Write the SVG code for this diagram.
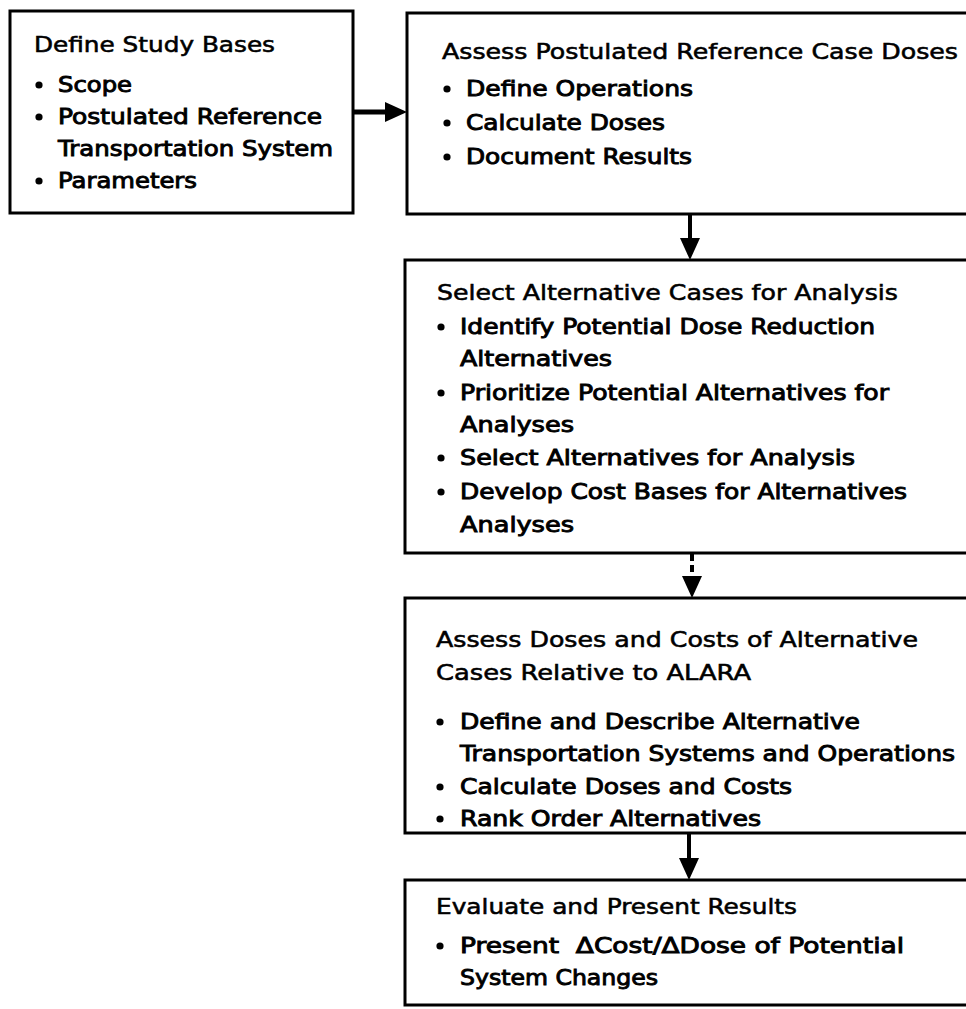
<svg xmlns="http://www.w3.org/2000/svg" width="966" height="1009" viewBox="0 0 966 1009">
<defs>
<style>
.box{fill:#fff;stroke:#000;stroke-width:3}
text{font-family:"DejaVu Sans","Liberation Sans",sans-serif;font-size:21px;fill:#000}
.t{font-weight:normal;stroke:#000;stroke-width:0.55}
.b{font-weight:normal;stroke:#000;stroke-width:0.9}
.dot{fill:#000}
.conn{stroke:#000;fill:none}
</style>
<marker id="ah" markerUnits="userSpaceOnUse" viewBox="0 -10 22 20" markerWidth="22" markerHeight="20" refX="2" refY="0" orient="auto">
<path d="M0,-10 L22,0 L0,10 z" fill="#000"/>
</marker>
</defs>
<rect width="966" height="1009" fill="#fff"/>

<g id="connectors">
<line class="conn" x1="354" y1="112" x2="387" y2="112" stroke-width="5" marker-end="url(#ah)"/>
<line class="conn" x1="690" y1="215" x2="690" y2="240" stroke-width="4" marker-end="url(#ah)"/>
<line class="conn" x1="692" y1="554" x2="692" y2="578" stroke-width="4" stroke-dasharray="7 4" marker-end="url(#ah)"/>
<line class="conn" x1="689" y1="834" x2="689" y2="860" stroke-width="4" marker-end="url(#ah)"/>
</g>

<g id="n1">
<rect class="box" x="10" y="11" width="343" height="202"/>
<text class="t" x="34" y="52" textLength="241" lengthAdjust="spacingAndGlyphs">Define Study Bases</text>
<circle class="dot" cx="39" cy="85" r="3.6"/>
<text class="b" x="58" y="92" textLength="74" lengthAdjust="spacingAndGlyphs">Scope</text>
<circle class="dot" cx="39" cy="117" r="3.6"/>
<text class="b" x="58" y="124" textLength="264" lengthAdjust="spacingAndGlyphs">Postulated Reference</text>
<text class="b" x="58" y="156" textLength="275" lengthAdjust="spacingAndGlyphs">Transportation System</text>
<circle class="dot" cx="39" cy="181" r="3.6"/>
<text class="b" x="58" y="188" textLength="139" lengthAdjust="spacingAndGlyphs">Parameters</text>
</g>

<g id="n2">
<rect class="box" x="407" y="13" width="580" height="201"/>
<text class="t" x="442" y="59" textLength="516" lengthAdjust="spacingAndGlyphs">Assess Postulated Reference Case Doses</text>
<circle class="dot" cx="447" cy="89" r="3.6"/>
<text class="b" x="466" y="96" textLength="227" lengthAdjust="spacingAndGlyphs">Define Operations</text>
<circle class="dot" cx="447" cy="123" r="3.6"/>
<text class="b" x="466" y="130" textLength="199" lengthAdjust="spacingAndGlyphs">Calculate Doses</text>
<circle class="dot" cx="447" cy="157" r="3.6"/>
<text class="b" x="466" y="164" textLength="226" lengthAdjust="spacingAndGlyphs">Document Results</text>
</g>

<g id="n3">
<rect class="box" x="405" y="260" width="582" height="293"/>
<text class="t" x="437" y="300" textLength="461" lengthAdjust="spacingAndGlyphs">Select Alternative Cases for Analysis</text>
<circle class="dot" cx="441" cy="327" r="3.6"/>
<text class="b" x="460" y="334" textLength="415" lengthAdjust="spacingAndGlyphs">Identify Potential Dose Reduction</text>
<text class="b" x="460" y="366" textLength="152" lengthAdjust="spacingAndGlyphs">Alternatives</text>
<circle class="dot" cx="441" cy="393" r="3.6"/>
<text class="b" x="460" y="400" textLength="429" lengthAdjust="spacingAndGlyphs">Prioritize Potential Alternatives for</text>
<text class="b" x="460" y="432" textLength="114" lengthAdjust="spacingAndGlyphs">Analyses</text>
<circle class="dot" cx="441" cy="458" r="3.6"/>
<text class="b" x="460" y="465" textLength="395" lengthAdjust="spacingAndGlyphs">Select Alternatives for Analysis</text>
<circle class="dot" cx="441" cy="492" r="3.6"/>
<text class="b" x="460" y="499" textLength="447" lengthAdjust="spacingAndGlyphs">Develop Cost Bases for Alternatives</text>
<text class="b" x="460" y="532" textLength="114" lengthAdjust="spacingAndGlyphs">Analyses</text>
</g>

<g id="n4">
<rect class="box" x="405" y="598" width="582" height="235"/>
<text class="t" x="436" y="647" textLength="482" lengthAdjust="spacingAndGlyphs">Assess Doses and Costs of Alternative</text>
<text class="t" x="436" y="680" textLength="315" lengthAdjust="spacingAndGlyphs">Cases Relative to ALARA</text>
<circle class="dot" cx="440" cy="722" r="3.6"/>
<text class="b" x="460" y="729" textLength="400" lengthAdjust="spacingAndGlyphs">Define and Describe Alternative</text>
<text class="b" x="460" y="761" textLength="495" lengthAdjust="spacingAndGlyphs">Transportation Systems and Operations</text>
<circle class="dot" cx="440" cy="787" r="3.6"/>
<text class="b" x="460" y="794" textLength="332" lengthAdjust="spacingAndGlyphs">Calculate Doses and Costs</text>
<circle class="dot" cx="440" cy="819" r="3.6"/>
<text class="b" x="460" y="826" textLength="301" lengthAdjust="spacingAndGlyphs">Rank Order Alternatives</text>
</g>

<g id="n5">
<rect class="box" x="405" y="880" width="582" height="125"/>
<text class="t" x="436" y="914" textLength="361" lengthAdjust="spacingAndGlyphs">Evaluate and Present Results</text>
<circle class="dot" cx="440" cy="946" r="3.6"/>
<text class="b" x="460" y="953" textLength="444" lengthAdjust="spacingAndGlyphs" xml:space="preserve">Present  ΔCost/ΔDose of Potential</text>
<text class="b" x="460" y="985" textLength="198" lengthAdjust="spacingAndGlyphs">System Changes</text>
</g>
</svg>
